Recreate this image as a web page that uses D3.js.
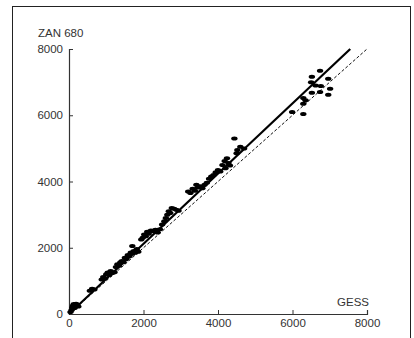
<!DOCTYPE html>
<html>
<head>
<meta charset="utf-8">
<script src="https://cdn.jsdelivr.net/npm/d3@7"></script>
<style>
  body { margin: 0; background: #fff; }
  svg { display: block; font-family: "Liberation Sans", Arial, sans-serif; }
</style>
</head>
<body>
<svg id="chart" width="414" height="338"></svg>
<script>
// GESS (x) vs ZAN 680 (y) readings
const gess = [40, 70, 90, 110, 130, 160, 190, 220, 250, 150,
  560, 620, 680,
  880, 920, 960, 1000, 1040, 1080, 1120, 1160, 1220,
  1260, 1300, 1340, 1380, 1420, 1460, 1500, 1540, 1580, 1620, 1660, 1700, 1740, 1780, 1820, 1700, 1860,
  1940, 1980, 2020, 2060, 2100, 2140, 2200, 2260, 2320, 2380, 2440,
  2500, 2560, 2600, 2640, 2680, 2720, 2760, 2820, 2880, 2940,
  3200, 3260, 3320, 3380, 3420, 3460, 3520, 3580, 3640, 3700,
  3760, 3820, 3880, 3940, 4000, 4060, 4120, 4180, 4240, 4280, 4200, 4320,
  4440, 4520, 4600, 4700, 4500,
  5990, 6290, 6290, 6290, 6350, 6500, 6520, 6740, 6760, 6740, 6960, 7010, 6960, 6520, 6620];
const zan = [60, 120, 200, 260, 300, 280, 310, 270, 230, 180,
  700, 760, 740,
  1040, 1120, 1080, 1200, 1250, 1180, 1300, 1240, 1260,
  1420, 1500, 1460, 1560, 1600, 1560, 1700, 1660, 1780, 1740, 1860, 1820, 1900, 1850, 1960, 2050, 1880,
  2250, 2300, 2400, 2350, 2480, 2420, 2520, 2500, 2540, 2460, 2560,
  2700, 2800, 2900, 3000, 3100, 3050, 3200, 3180, 3150, 3120,
  3700, 3650, 3780, 3720, 3900, 3820, 3860, 3800, 3900, 3960,
  4080, 4150, 4200, 4280, 4350, 4300, 4500, 4620, 4700, 4560, 4400, 4480,
  5300, 4950, 5050, 5000, 4850,
  6100, 6520, 6040, 6350, 6450, 7000, 7160, 7340, 6880, 6700, 7100, 6800, 6620, 6680, 6900];
const ticks = [0, 2000, 4000, 6000, 8000];
// regression fit (solid) and line of identity (dashed)
const fitLine = [[0, 0], [7550, 8000]];
const identityLine = [[0, 0], [8000, 8000]];

const svg = d3.select("#chart");

// outer frame
svg.append("rect")
  .attr("x", 12.5).attr("y", 6.5)
  .attr("width", 398).attr("height", 340)
  .attr("fill", "none").attr("stroke", "#222").attr("stroke-width", 1);

const x = d3.scaleLinear().domain([0, 8000]).range([69, 367]);
const y = d3.scaleLinear().domain([0, 8000]).range([314, 49]);

const xAxis = svg.append("g")
  .attr("transform", "translate(0,314)")
  .call(d3.axisBottom(x).tickValues(ticks).tickFormat(d3.format("d"))
    .tickSizeInner(-4).tickSizeOuter(-4).tickPadding(5));

const yAxis = svg.append("g")
  .attr("transform", "translate(69,0)")
  .call(d3.axisLeft(y).tickValues(ticks).tickFormat(d3.format("d"))
    .tickSizeInner(-4).tickSizeOuter(-4).tickPadding(6));

[xAxis, yAxis].forEach(g => {
  g.select(".domain").attr("stroke", "#333").attr("stroke-width", 1.2);
  g.selectAll(".tick line").attr("stroke", "#333");
  g.selectAll("text").attr("font-size", 11.5).attr("fill", "#333")
    .attr("font-family", "'Liberation Sans', Arial, sans-serif");
});

svg.append("text").attr("x", 38).attr("y", 37)
  .attr("font-size", 11.5).attr("fill", "#333").text("ZAN 680");
svg.append("text").attr("x", 369).attr("y", 306).attr("text-anchor", "end")
  .attr("font-size", 11.5).attr("fill", "#333").text("GESS");

const line = d3.line().x(d => x(d[0])).y(d => y(d[1]));

svg.append("path").datum(identityLine)
  .attr("d", line).attr("fill", "none")
  .attr("stroke", "#111").attr("stroke-width", 1)
  .attr("stroke-dasharray", "3,2");

svg.append("path").datum(fitLine)
  .attr("d", line).attr("fill", "none")
  .attr("stroke", "#000").attr("stroke-width", 2.2);

svg.append("g").selectAll("ellipse")
  .data(d3.range(gess.length))
  .enter().append("ellipse")
  .attr("cx", i => x(gess[i]))
  .attr("cy", i => y(zan[i]))
  .attr("rx", 3.2).attr("ry", 2)
  .attr("fill", "#000");
</script>
</body>
</html>
